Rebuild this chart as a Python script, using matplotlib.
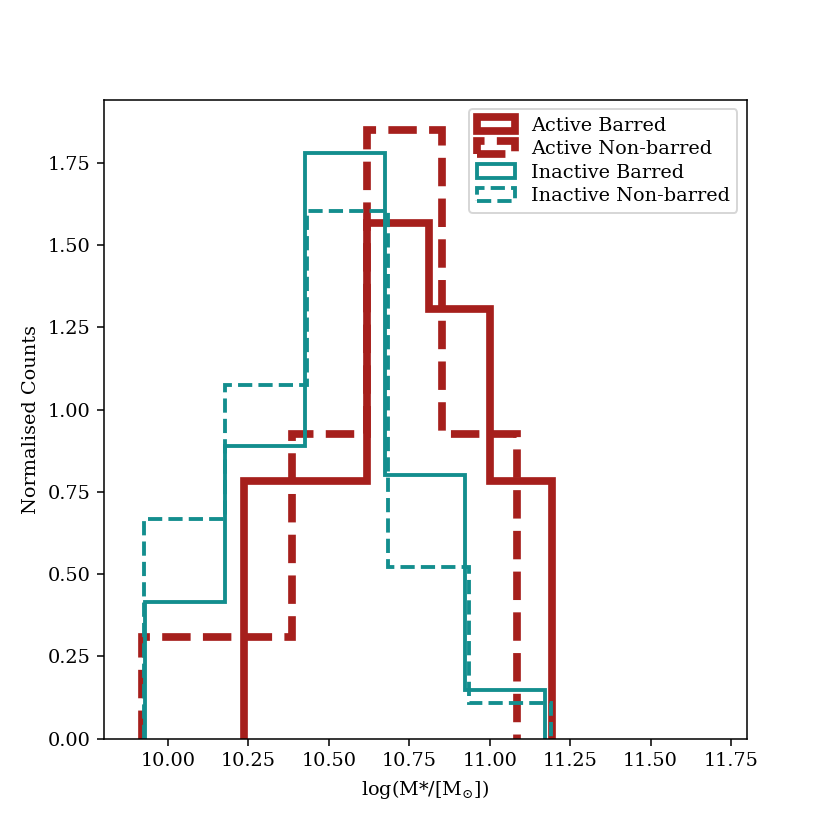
import matplotlib
matplotlib.use('Agg')
import matplotlib.pyplot as plt
import numpy as np

plt.rcParams['font.family'] = 'serif'
plt.rcParams['mathtext.fontset'] = 'dejavuserif'

# bin edges and normalised heights
act_bar_edges = [10.235, 10.427, 10.618, 10.810, 11.002, 11.193]
act_bar_vals = [0.783, 0.783, 1.566, 1.305, 0.783]

act_non_edges = [9.920, 10.153, 10.386, 10.619, 10.852, 11.085]
act_non_vals = [0.308, 0.308, 0.925, 1.850, 0.925]

ina_bar_edges = [9.928, 10.177, 10.426, 10.675, 10.924, 11.173]
ina_bar_vals = [0.415, 0.889, 1.780, 0.800, 0.148]

ina_non_edges = [9.925, 10.178, 10.431, 10.684, 10.937, 11.190]
ina_non_vals = [0.667, 1.076, 1.603, 0.521, 0.108]

red = '#a61f1c'
teal = '#138e8e'

def centres(edges):
    e = np.asarray(edges)
    return (e[:-1] + e[1:]) / 2

fig, ax = plt.subplots(figsize=(6, 6), dpi=830 / 6)

ax.hist(centres(act_bar_edges), bins=act_bar_edges, weights=act_bar_vals,
        histtype='step', color=red, lw=4, label='Active Barred')
ax.hist(centres(act_non_edges), bins=act_non_edges, weights=act_non_vals,
        histtype='step', color=red, lw=4, ls='--', label='Active Non-barred')
ax.hist(centres(ina_bar_edges), bins=ina_bar_edges, weights=ina_bar_vals,
        histtype='step', color=teal, lw=2, label='Inactive Barred')
ax.hist(centres(ina_non_edges), bins=ina_non_edges, weights=ina_non_vals,
        histtype='step', color=teal, lw=2, ls='--', label='Inactive Non-barred')

ax.set_xlim(9.8, 11.8)
ax.set_xlabel(r'log(M*/[M$_{\odot}$])')
ax.set_ylabel('Normalised Counts')
ax.legend(loc='upper right', labelspacing=0.28)

fig.savefig('out.png', dpi=830 / 6)
